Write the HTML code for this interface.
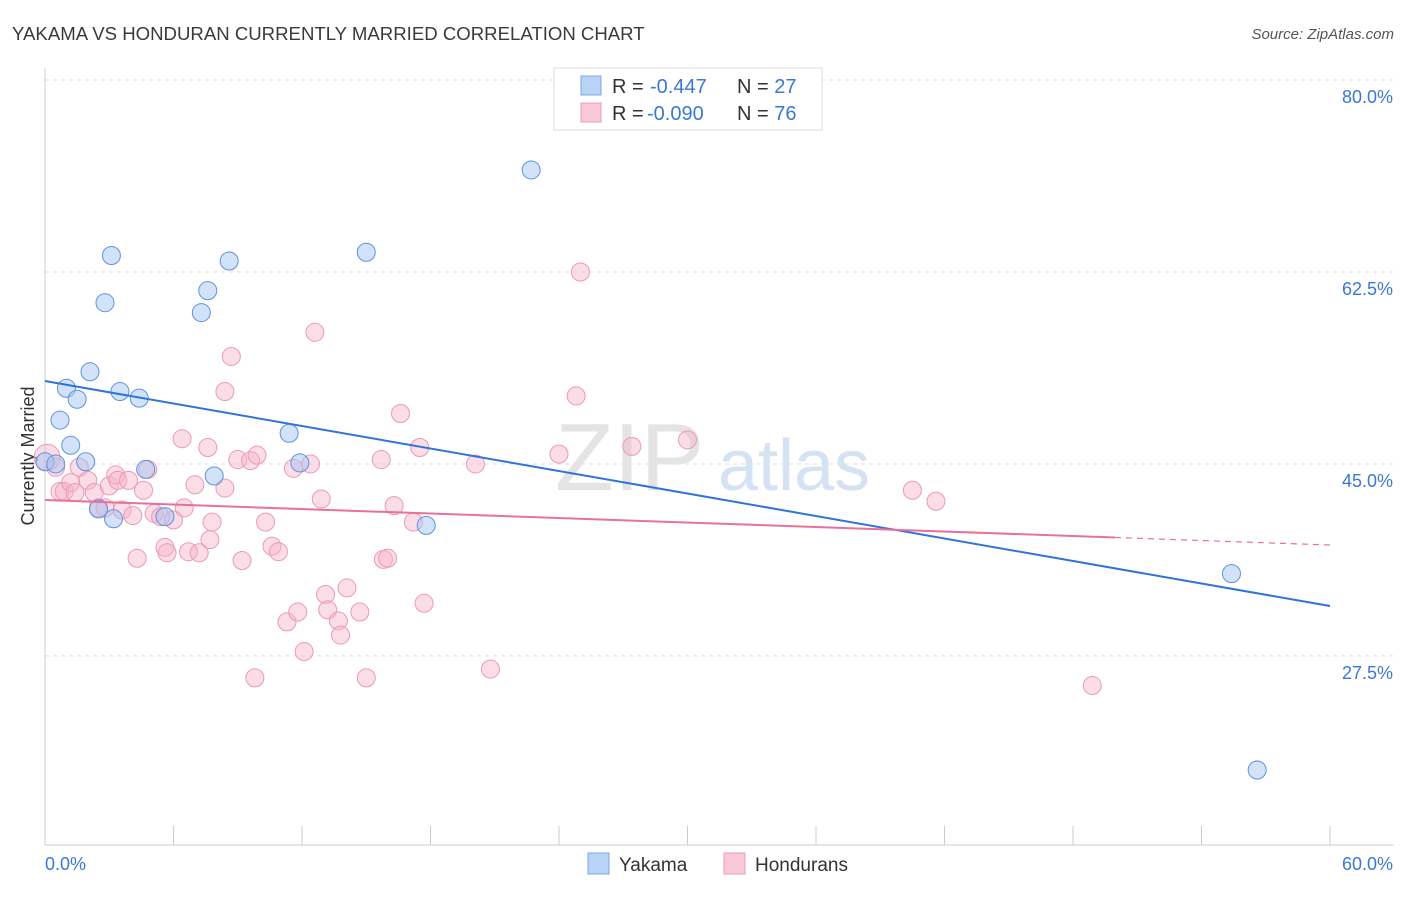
<!DOCTYPE html>
<html><head><meta charset="utf-8">
<style>
body{margin:0;background:#fff;font-family:"Liberation Sans",sans-serif;}
svg text{font-family:"Liberation Sans",sans-serif;}
</style></head>
<body>
<svg id="chart" width="1406" height="892" viewBox="0 0 1406 892">
<text x="12" y="40" font-size="18.6" fill="#3a3a3a">YAKAMA VS HONDURAN CURRENTLY MARRIED CORRELATION CHART</text>
<text x="1394" y="39" font-size="15" fill="#555" text-anchor="end" font-style="italic">Source: ZipAtlas.com</text>
<text x="34" y="456" font-size="18" fill="#333" text-anchor="middle" transform="rotate(-90 34 456)">Currently Married</text>
<g id="grid"></g>
<text x="555" y="490" font-size="96" fill="#e4e4e4" font-family="Liberation Serif">ZIP</text>
<text x="718" y="490" font-size="72" fill="#d4e2f3">atlas</text>
<g id="axes"></g>
<g id="pts"></g>
<g id="lines"></g>
<g>
<rect x="554" y="68" width="268" height="62" fill="#fff" stroke="#ddd"/>
<rect x="581" y="76" width="20" height="19" fill="#b8d3f5" stroke="#7aa7e6"/>
<rect x="581" y="103" width="20" height="19" fill="#f9c8d7" stroke="#ec9bb6"/>
<text x="612" y="93" font-size="20" fill="#333">R = </text>
<text x="650" y="93" font-size="20" fill="#3a78d8">-0.447</text>
<text x="737" y="93" font-size="20" fill="#333">N = <tspan fill="#3a78d8">27</tspan></text>
<text x="612" y="120" font-size="20" fill="#333">R = </text>
<text x="647" y="120" font-size="20" fill="#3a78d8">-0.090</text>
<text x="737" y="120" font-size="20" fill="#333">N = <tspan fill="#3a78d8">76</tspan></text>
</g>
<g>
<rect x="588" y="853" width="21" height="21" fill="#b8d3f5" stroke="#7aa7e6"/>
<text x="619" y="871" font-size="19" fill="#333">Yakama</text>
<rect x="724" y="853" width="21" height="21" fill="#f9c8d7" stroke="#ec9bb6"/>
<text x="755" y="871" font-size="19" fill="#333">Hondurans</text>
</g>
</svg>
<script>
const yTicks=[80,62.5,45,27.5];
const yTickLabels=["80.0%","62.5%","45.0%","27.5%"];
const xTickLabels=["0.0%","60.0%"];
const yakamaX=[0,0.5,0.7,1.0,1.2,1.5,1.9,2.1,2.5,2.8,3.1,3.2,3.5,4.4,4.7,5.6,7.3,7.6,7.9,8.6,11.4,11.9,15.0,17.8,22.7,55.4,56.6];
const yakamaY=[45.2,45.0,49.0,51.9,46.7,50.9,45.2,53.4,40.9,59.7,64.0,40.0,51.6,51.0,44.5,40.2,58.8,60.8,43.9,63.5,47.8,45.1,64.3,39.4,71.8,35.0,17.1];
const hondX=[0.1,0.5,0.7,0.9,1.2,1.4,1.6,2.0,2.3,2.5,2.8,3.0,3.3,3.4,3.6,3.9,4.1,4.3,4.6,4.8,5.1,5.4,5.6,5.7,6.0,6.4,6.5,6.7,7.0,7.2,7.6,7.7,7.8,8.4,8.4,8.7,9.0,9.2,9.6,9.8,9.9,10.3,10.6,10.9,11.3,11.6,11.8,12.1,12.4,12.6,12.9,13.1,13.2,13.7,13.8,14.1,14.7,15.0,15.7,15.8,16.0,16.3,16.6,17.2,17.5,17.7,20.1,20.8,24.0,24.8,25.0,27.4,30.0,40.5,41.6,48.9];
const hondY=[45.6,44.7,42.5,42.5,43.3,42.4,44.7,43.5,42.4,41.0,41.0,43.0,44.0,43.5,40.8,43.5,40.3,36.4,42.6,44.5,40.5,40.2,37.4,36.9,39.9,47.3,41.0,37.0,43.1,36.9,46.5,38.1,39.7,42.8,51.6,54.8,45.4,36.2,45.3,25.5,45.8,39.7,37.5,37.0,30.6,44.6,31.5,27.9,45.0,57.0,41.8,33.1,31.7,30.7,29.4,33.7,31.5,25.5,45.4,36.3,36.4,41.2,49.6,39.7,46.5,32.3,45.0,26.3,45.9,51.2,62.5,46.6,47.2,42.6,41.6,24.8];
const trendBlue=[52.56,32.05];
const trendPink=[41.71,37.61];
const pinkSolidEnd=49.96;
const NS="http://www.w3.org/2000/svg";
const X=v=>45+v/60*1285, Y=v=>80+(80-v)*10.97;
function mk(t,a,p){const e=document.createElementNS(NS,t);for(const k in a)e.setAttribute(k,a[k]);p.appendChild(e);return e;}
const grid=document.getElementById('grid'),axes=document.getElementById('axes');
yTicks.forEach((t,i)=>{
 const g=mk('line',{x1:45,x2:1394,y1:Y(t),y2:Y(t),stroke:'#ddd','stroke-dasharray':'4,4'},grid);
 
 
 const tx=mk('text',{x:1393,y:Y(t)+23,'font-size':18,fill:'#3a78d8','text-anchor':'end'},axes);
 tx.textContent=yTickLabels[i];
 
 
});
mk('line',{x1:45,x2:45,y1:68,y2:845,stroke:'#ccc'},axes);
mk('line',{x1:45,x2:1394,y1:845,y2:845,stroke:'#ccc'},axes);
for(let i=0;i<=10;i++){const t=mk('line',{x1:X(i*6),x2:X(i*6),y1:826,y2:845,stroke:'#ccc'},axes);
 
 }
[[0,45,'start'],[1,1393,'end']].forEach(([i,x,a])=>{const t=mk('text',{x:x,y:870,'font-size':18,fill:'#3a78d8','text-anchor':a},axes);t.textContent=xTickLabels[i];
 
 });
const pts=document.getElementById('pts');
hondX.forEach((v,i)=>{const c=mk('circle',{cx:X(v),cy:Y(hondY[i]),r:i==0?13:9,fill:'rgba(246,180,202,0.45)',stroke:'#eb99b5','stroke-width':1},pts);
 
 });
yakamaX.forEach((v,i)=>{const c=mk('circle',{cx:X(v),cy:Y(yakamaY[i]),r:9,fill:'rgba(165,198,242,0.5)',stroke:'#5f92dc','stroke-width':1},pts);
 
 });
const ln=document.getElementById('lines');
const pl=(a,b,x0)=>a+(b-a)*(x0/60);
const b1=mk('line',{x1:X(0),y1:Y(trendBlue[0]),x2:X(60),y2:Y(trendBlue[1]),stroke:'#2f74d8','stroke-width':2},ln);


const p1=mk('line',{x1:X(0),y1:Y(trendPink[0]),x2:X(pinkSolidEnd),y2:Y(pl(trendPink[0],trendPink[1],pinkSolidEnd)),stroke:'#e8719a','stroke-width':2},ln);


const p2=mk('line',{x1:X(pinkSolidEnd),y1:Y(pl(trendPink[0],trendPink[1],pinkSolidEnd)),x2:X(60),y2:Y(trendPink[1]),stroke:'#e8719a','stroke-width':1.2,'stroke-dasharray':'6,5'},ln);


</script>
</body></html>
